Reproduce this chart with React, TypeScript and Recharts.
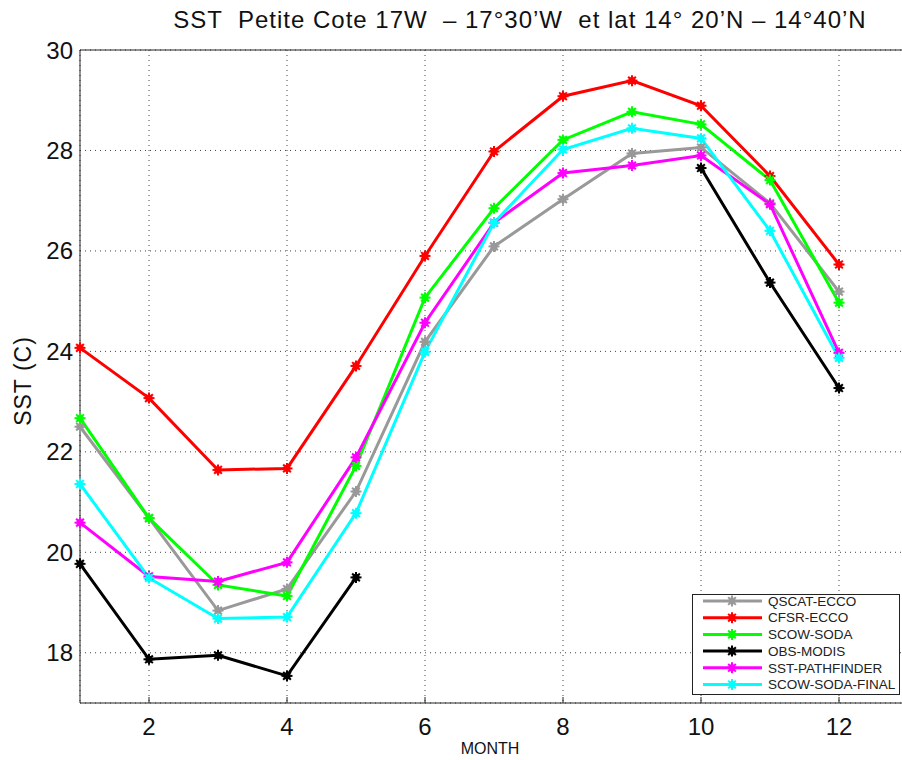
import React from "react";
import { LineChart, Line, XAxis, YAxis, CartesianGrid, ReferenceLine } from "recharts";

const months = [1, 2, 3, 4, 5, 6, 7, 8, 9, 10, 11, 12];
const qscatEcco = [22.5, 20.68, 18.84, 19.27, 21.21, 24.19, 26.09, 27.03, 27.94, 28.06, 26.95, 25.19];
const cfsrEcco = [24.07, 23.07, 21.64, 21.67, 23.71, 25.9, 27.98, 29.08, 29.39, 28.89, 27.49, 25.73];
const scowSoda = [22.67, 20.68, 19.35, 19.13, 21.72, 25.07, 26.85, 28.21, 28.77, 28.52, 27.41, 24.97];
const obsModis = [19.77, 17.87, 17.95, 17.54, 19.5, null, null, null, null, 27.65, 25.37, 23.27];
const sstPathfinder = [20.59, 19.52, 19.42, 19.8, 21.89, 24.57, 26.56, 27.55, 27.7, 27.9, 26.93, 23.97];
const scowSodaFinal = [21.36, 19.49, 18.68, 18.71, 20.78, 23.99, 26.56, 28.02, 28.44, 28.24, 26.4, 23.87];

const xTicks = [2, 4, 6, 8, 10, 12];
const yTicks = [18, 20, 22, 24, 26, 28, 30];

const series = [
  { key: "QSCAT-ECCO", values: qscatEcco, color: "#999999" },
  { key: "CFSR-ECCO", values: cfsrEcco, color: "#ff0000" },
  { key: "SCOW-SODA", values: scowSoda, color: "#00ff00" },
  { key: "OBS-MODIS", values: obsModis, color: "#000000" },
  { key: "SST-PATHFINDER", values: sstPathfinder, color: "#ff00ff" },
  { key: "SCOW-SODA-FINAL", values: scowSodaFinal, color: "#00ffff" },
];

const chartData = months.map((m, i) => {
  const row: Record<string, number | null> = { month: m };
  series.forEach((s) => {
    row[s.key] = s.values[i];
  });
  return row;
});

const FONT = '"Liberation Sans", Arial, Helvetica, sans-serif';

function Star({ cx, cy, color }: { cx: number; cy: number; color: string }) {
  const r = 5.5;
  const d = r * 0.7;
  return (
    <g>
      <circle cx={cx} cy={cy} r={3.6} fill={color} />
      <line x1={cx - r} y1={cy} x2={cx + r} y2={cy} stroke={color} strokeWidth={2} />
      <line x1={cx} y1={cy - r} x2={cx} y2={cy + r} stroke={color} strokeWidth={2} />
      <line x1={cx - d} y1={cy - d} x2={cx + d} y2={cy + d} stroke={color} strokeWidth={2} />
      <line x1={cx - d} y1={cy + d} x2={cx + d} y2={cy - d} stroke={color} strokeWidth={2} />
    </g>
  );
}

function XTick(props: any) {
  const { x, y, payload } = props;
  return (
    <g>
      <line x1={x} y1={y - 15} x2={x} y2={y - 21} stroke="#222" strokeWidth={1} />
      <text x={x} y={y} dy="0.71em" textAnchor="middle" fontSize={24} fill="#111" fontFamily={FONT}>
        {payload.value}
      </text>
    </g>
  );
}

function LegendBox() {
  return (
    <svg
      width={210}
      height={104}
      style={{ position: "absolute", left: 691, top: 593 }}
    >
      <rect x={1.5} y={1.5} width={207} height={100} fill="#fff" stroke="#222" strokeWidth={1} />
      {series.map((s, i) => {
        const cy = 8 + i * 16.7;
        return (
          <g key={s.key}>
            <line x1={12} y1={cy} x2={71} y2={cy} stroke={s.color} strokeWidth={3} />
            <Star cx={41} cy={cy} color={s.color} />
            <text x={77} y={cy} dy="0.35em" fontSize={13.5} fill="#222" fontFamily={FONT}>
              {s.key}
            </text>
          </g>
        );
      })}
    </svg>
  );
}

export default function App() {
  return (
    <div
      style={{
        position: "fixed",
        left: 0,
        top: 0,
        width: 902,
        height: 760,
        overflow: "hidden",
        background: "#fff",
        fontFamily: FONT,
      }}
    >
      <LineChart
        width={930}
        height={760}
        data={chartData}
        margin={{ top: 50, right: 22, bottom: 17, left: 0 }}
      >
        <CartesianGrid stroke="#444" strokeDasharray="1 4" strokeWidth={1} />
        <XAxis
          dataKey="month"
          type="number"
          domain={[1, 13]}
          ticks={xTicks}
          height={40}
          tickLine={false}
          tickSize={0}
          tickMargin={15}
          axisLine={{ stroke: "#222" }}
          tick={<XTick />}
        />
        <YAxis
          type="number"
          domain={[17, 30]}
          ticks={yTicks}
          width={80}
          tickLine={false}
          tickSize={0}
          tickMargin={7}
          axisLine={{ stroke: "#222" }}
          tick={{ fontSize: 24, fill: "#111", fontFamily: FONT }}
        />
        <ReferenceLine y={30} stroke="#222" strokeWidth={1} />
        {series.map((s) => (
          <Line
            key={s.key}
            dataKey={s.key}
            stroke={s.color}
            strokeWidth={3}
            isAnimationActive={false}
            dot={(p: any) =>
              p.cy == null || p.value == null ? (
                <g key={`${s.key}-${p.index}`} />
              ) : (
                <Star key={`${s.key}-${p.index}`} cx={p.cx} cy={p.cy} color={s.color} />
              )
            }
            activeDot={false}
          />
        ))}
      </LineChart>
      <div
        style={{
          position: "absolute",
          left: 0,
          width: 1040,
          top: 6,
          textAlign: "center",
          fontSize: 24,
          letterSpacing: 1,
          color: "#111",
          whiteSpace: "pre",
        }}
      >
        {"SST  Petite Cote 17W  \u2013 17\u00b030\u2019W  et lat 14\u00b0 20\u2019N \u2013 14\u00b040\u2019N"}
      </div>
      <div
        style={{
          position: "absolute",
          left: 23,
          top: 381,
          fontSize: 23,
          letterSpacing: 1,
          color: "#111",
          whiteSpace: "pre",
          transform: "translate(-50%, -50%) rotate(-90deg)",
        }}
      >
        SST (C)
      </div>
      <div
        style={{
          position: "absolute",
          left: 490,
          top: 749,
          fontSize: 16,
          color: "#111",
          transform: "translate(-50%, -50%)",
        }}
      >
        MONTH
      </div>
      <LegendBox />
    </div>
  );
}
